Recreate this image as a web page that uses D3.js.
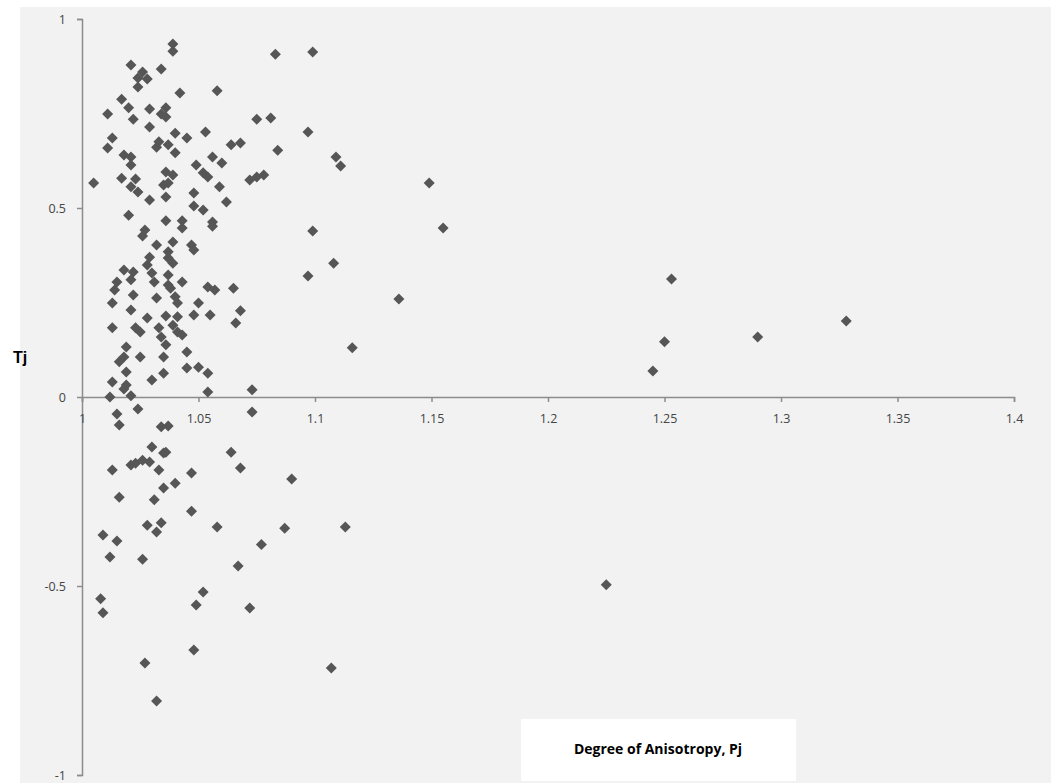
<!DOCTYPE html>
<html>
<head>
<meta charset="utf-8">
<style>
  body { margin: 0; background: #fff; }
  svg { display: block; }
</style>
</head>
<body>
<div id="chart"></div>
<script src="https://cdnjs.cloudflare.com/ajax/libs/d3/7.8.5/d3.min.js"></script>
<script>
// degree of anisotropy (Pj) and shape parameter (Tj)
var pj = [
  1.039, 1.039, 1.021, 1.034, 1.026, 1.024, 1.028, 1.024, 1.083, 1.099,
  1.042, 1.058, 1.017, 1.011, 1.020, 1.022, 1.029, 1.036, 1.034, 1.036,
  1.075, 1.081, 1.029, 1.053, 1.097, 1.013, 1.011, 1.033, 1.032, 1.040,
  1.037, 1.040, 1.045, 1.064, 1.068, 1.084, 1.018, 1.021, 1.021, 1.049,
  1.056, 1.060, 1.052, 1.054, 1.005, 1.017, 1.023, 1.021, 1.024, 1.036,
  1.039, 1.035, 1.037, 1.072, 1.075, 1.078, 1.059, 1.062, 1.029, 1.036,
  1.048, 1.048, 1.109, 1.111, 1.149, 1.155, 1.099, 1.020, 1.036, 1.043,
  1.043, 1.052, 1.056, 1.056, 1.027, 1.026, 1.032, 1.039, 1.037, 1.047,
  1.048, 1.029, 1.028, 1.037, 1.039, 1.018, 1.022, 1.021, 1.030, 1.031,
  1.037, 1.037, 1.043, 1.015, 1.014, 1.022, 1.038, 1.040, 1.054, 1.057,
  1.065, 1.013, 1.032, 1.041, 1.050, 1.021, 1.068, 1.048, 1.055, 1.066,
  1.036, 1.041, 1.028, 1.013, 1.023, 1.025, 1.033, 1.034, 1.039, 1.041,
  1.043, 1.036, 1.019, 1.018, 1.016, 1.025, 1.035, 1.045, 1.045, 1.050,
  1.054, 1.019, 1.035, 1.030, 1.013, 1.019, 1.054, 1.012, 1.021, 1.073,
  1.073, 1.097, 1.108, 1.116, 1.136, 1.245, 1.250, 1.253, 1.290, 1.328,
  1.018, 1.024, 1.015, 1.016, 1.034, 1.037, 1.030, 1.035, 1.036, 1.013,
  1.021, 1.023, 1.026, 1.029, 1.033, 1.047, 1.035, 1.040, 1.016, 1.031,
  1.047, 1.028, 1.034, 1.032, 1.009, 1.015, 1.012, 1.026, 1.008, 1.009,
  1.027, 1.032, 1.052, 1.049, 1.048, 1.064, 1.068, 1.058, 1.067, 1.072,
  1.077, 1.087, 1.090, 1.113, 1.107, 1.225
];
var tj = [
  0.934, 0.915, 0.878, 0.868, 0.860, 0.844, 0.841, 0.820, 0.907, 0.913,
  0.804, 0.810, 0.788, 0.749, 0.765, 0.735, 0.762, 0.765, 0.749, 0.741,
  0.735, 0.738, 0.714, 0.701, 0.701, 0.685, 0.659, 0.675, 0.661, 0.698,
  0.667, 0.646, 0.685, 0.667, 0.672, 0.653, 0.640, 0.635, 0.614, 0.614,
  0.635, 0.619, 0.593, 0.582, 0.566, 0.579, 0.577, 0.556, 0.542, 0.595,
  0.587, 0.561, 0.566, 0.574, 0.582, 0.587, 0.556, 0.516, 0.521, 0.529,
  0.540, 0.505, 0.635, 0.611, 0.566, 0.447, 0.439, 0.481, 0.466, 0.466,
  0.447, 0.495, 0.463, 0.452, 0.442, 0.426, 0.402, 0.410, 0.384, 0.402,
  0.389, 0.370, 0.349, 0.368, 0.354, 0.336, 0.331, 0.310, 0.328, 0.304,
  0.323, 0.296, 0.304, 0.304, 0.283, 0.270, 0.288, 0.265, 0.291, 0.283,
  0.288, 0.249, 0.262, 0.249, 0.249, 0.230, 0.228, 0.217, 0.217, 0.196,
  0.214, 0.212, 0.209, 0.183, 0.183, 0.172, 0.183, 0.159, 0.190, 0.172,
  0.164, 0.138, 0.132, 0.106, 0.093, 0.106, 0.106, 0.119, 0.077, 0.079,
  0.063, 0.066, 0.063, 0.045, 0.040, 0.032, 0.013, 0.000, 0.003, 0.019,
  -0.040, 0.320, 0.354, 0.130, 0.259, 0.069, 0.146, 0.312, 0.159, 0.201,
  0.021, -0.032, -0.045, -0.074, -0.079, -0.077, -0.132, -0.148, -0.146, -0.193,
  -0.180, -0.175, -0.167, -0.172, -0.193, -0.201, -0.241, -0.228, -0.265, -0.272,
  -0.302, -0.339, -0.333, -0.357, -0.365, -0.381, -0.423, -0.429, -0.534, -0.571,
  -0.704, -0.804, -0.516, -0.550, -0.669, -0.146, -0.188, -0.344, -0.447, -0.558,
  -0.390, -0.347, -0.217, -0.344, -0.717, -0.497
];
var xTicks = [1, 1.05, 1.1, 1.15, 1.2, 1.25, 1.3, 1.35, 1.4];
var yTicks = [-1, -0.5, 0, 0.5, 1];

var width = 1051, height = 783;

var svg = d3.select("#chart")
  .append("svg")
  .attr("width", width)
  .attr("height", height);

// grey panel, leaves a thin white margin top/left like the screenshot
svg.append("rect")
  .attr("x", 20).attr("y", 7)
  .attr("width", width - 20).attr("height", height - 7)
  .style("fill", "#f2f2f2");

var x = d3.scaleLinear().domain([1, 1.4]).range([82, 1014]);
var y = d3.scaleLinear().domain([-1, 1]).range([775, 19]);

var axisColor = "#8c8c8c";
var tickFont = "'Open Sans', 'Liberation Sans', sans-serif";

// plain hyphen minus like the original (d3 would use a unicode minus)
var fmt = function(d) { return String(d); };

// y axis at x = 1
var yAxis = svg.append("g")
  .attr("transform", "translate(" + x(1) + ",0)")
  .call(d3.axisLeft(y).tickValues(yTicks).tickSize(5).tickPadding(11).tickFormat(fmt));

// x axis at y = 0
var xAxis = svg.append("g")
  .attr("transform", "translate(0," + y(0) + ")")
  .call(d3.axisBottom(x).tickValues(xTicks).tickSize(5).tickPadding(12).tickFormat(fmt));

[xAxis, yAxis].forEach(function(ax) {
  ax.select(".domain").style("stroke", axisColor).style("stroke-width", 1.5);
  ax.selectAll(".tick line").style("stroke", axisColor).style("stroke-width", 1.5);
  ax.selectAll(".tick text")
    .style("font-family", tickFont)
    .style("font-size", "12.5px")
    .style("fill", "#444");
});

var diamond = "M0,-5.5L5.5,0L0,5.5L-5.5,0Z";

svg.append("g").selectAll("path")
  .data(pj.map(function(d, i) { return [d, tj[i]]; }))
  .enter().append("path")
  .attr("d", diamond)
  .attr("transform", function(d) { return "translate(" + x(d[0]) + "," + y(d[1]) + ")"; })
  .style("fill", "#565656");

// y title
svg.append("text")
  .attr("x", 13).attr("y", 363)
  .style("font-family", "'Liberation Sans', 'Open Sans', sans-serif")
  .style("font-weight", "bold")
  .style("font-size", "16px")
  .style("fill", "#000")
  .text("Tj");

// x title in its white box
svg.append("rect")
  .attr("x", 521).attr("y", 719)
  .attr("width", 275).attr("height", 62)
  .style("fill", "#fff");

svg.append("text")
  .attr("x", 658).attr("y", 754)
  .attr("text-anchor", "middle")
  .style("font-family", "'Open Sans', 'Liberation Sans', sans-serif")
  .style("font-weight", "bold")
  .style("font-size", "14px")
  .style("fill", "#000")
  .text("Degree of Anisotropy, Pj");
</script>
</body>
</html>
